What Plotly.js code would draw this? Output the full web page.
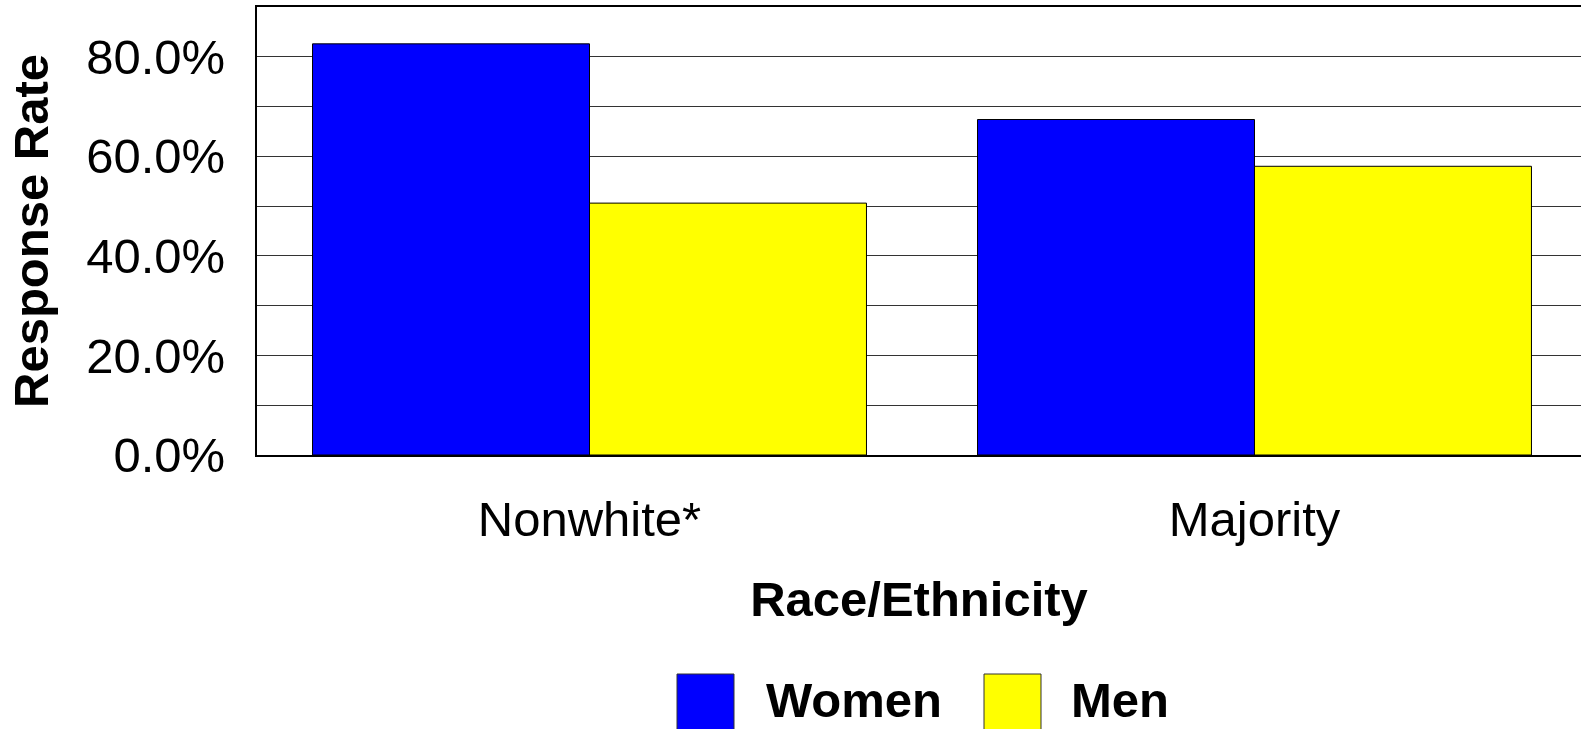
<!DOCTYPE html>
<html>
<head>
<meta charset="utf-8">
<script src="https://cdn.plot.ly/plotly-3.0.1.min.js"></script>
<style>
  html, body { margin: 0; padding: 0; background: #fff; }
  #chart { width: 1581px; height: 729px; }
</style>
</head>
<body>
<div id="chart"></div>
<script>
// ---- data ----
const categories = ["Nonwhite*", "Majority"];
const seriesNames = ["Women", "Men"];
const women = [0.826, 0.674];
const men = [0.506, 0.580];
const colors = ["#0000FF", "#FFFF00"];

const W = 1581, H = 729;
const M = { l: 257, r: 0, t: 7, b: 274 };
const FONT = "Liberation Sans, Arial, Helvetica, sans-serif";

// pixel -> paper helpers for legend decoration
const pw = W - M.l - M.r, ph = H - M.t - M.b;
const px = x => (x - M.l) / pw;
const py = y => (H - M.b - y) / ph;

const traces = [women, men].map((vals, i) => ({
  type: "bar",
  name: seriesNames[i],
  x: categories,
  y: vals,
  marker: { color: colors[i], line: { color: "#000000", width: 1 } },
  showlegend: false,
  hoverinfo: "x+y+name"
}));

// custom legend (large swatches like the reference)
const legendItems = [
  { sw: [677, 734], tx: 764 },
  { sw: [984, 1041], tx: 1069 }
];
const shapes = legendItems.map((it, i) => ({
  type: "rect", xref: "paper", yref: "paper",
  x0: px(it.sw[0]), x1: px(it.sw[1]), y0: py(731), y1: py(674),
  fillcolor: colors[i], line: { color: "#333", width: 1 }
}));
const annotations = legendItems.map((it, i) => ({
  xref: "paper", yref: "paper", x: px(it.tx), y: py(700),
  xanchor: "left", yanchor: "middle", showarrow: false,
  text: "<b>" + seriesNames[i] + "</b>",
  font: { family: FONT, size: 49, color: "#000" }
}));

const layout = {
  width: W, height: H,
  margin: M,
  paper_bgcolor: "#fff", plot_bgcolor: "#fff",
  font: { family: FONT, color: "#000" },
  barmode: "group",
  bargap: 0.167,
  bargroupgap: 0,
  showlegend: false,
  xaxis: {
    range: [-0.5, 1.491],
    showline: true, linecolor: "#000", linewidth: 2, mirror: true,
    showgrid: false, zeroline: false,
    ticks: "", tickfont: { family: FONT, size: 49 },
    ticklabelstandoff: 20,
    title: { text: "<b>Race/Ethnicity</b>", font: { family: FONT, size: 49 }, standoff: 37 }
  },
  yaxis: {
    range: [0, 0.9],
    dtick: 0.2, tick0: 0,
    tickformat: ".1%",
    showline: true, linecolor: "#000", linewidth: 2,
    showgrid: true, gridcolor: "#333", gridwidth: 1,
    minor: { dtick: 0.1, showgrid: true, gridcolor: "#333", gridwidth: 1 },
    zeroline: false,
    ticks: "", tickfont: { family: FONT, size: 49 },
    ticklabelstandoff: 20,
    title: { text: "<b>Response Rate</b>", font: { family: FONT, size: 49 }, standoff: 22 }
  },
  shapes: shapes,
  annotations: annotations
};

Plotly.newPlot("chart", traces, layout, { displayModeBar: false, staticPlot: true });
</script>
</body>
</html>
